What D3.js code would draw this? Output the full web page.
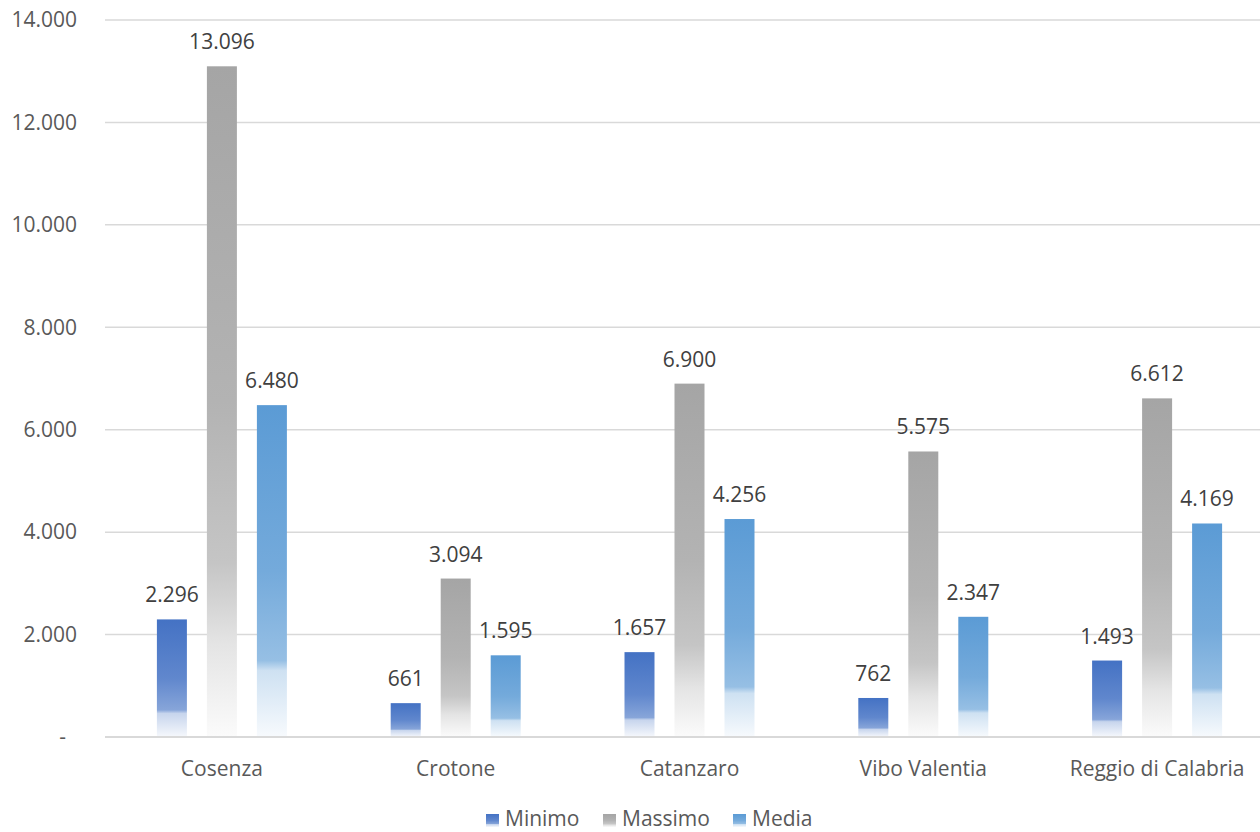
<!DOCTYPE html>
<html>
<head>
<meta charset="utf-8">
<script src="https://cdn.jsdelivr.net/npm/d3@7"></script>
<style>
  html, body { margin: 0; padding: 0; background: #fff; }
  svg { display: block; font-family: "Open Sans", "Noto Sans", sans-serif; }
</style>
</head>
<body>
<svg id="chart" width="1260" height="832"></svg>
<script>
// Province categories and the three series (min / max / average)
const categories = ["Cosenza", "Crotone", "Catanzaro", "Vibo Valentia", "Reggio di Calabria"];
const seriesNames = ["Minimo", "Massimo", "Media"];
const minimo  = [2296, 661, 1657, 762, 1493];
const massimo = [13096, 3094, 6900, 5575, 6612];
const media   = [6480, 1595, 4256, 2347, 4169];
const yTicks  = [0, 2000, 4000, 6000, 8000, 10000, 12000, 14000];
const seriesColors = ["#4472c4", "#a5a5a5", "#5b9bd5"];

const series = [minimo, massimo, media];

const svg = d3.select("#chart");
const W = 1260, H = 832;
const plot = { left: 105, right: 1274, top: 20, bottom: 737 };
const FS = 21;

const fmt = v => v === 0 ? "-" : d3.format(",")(v).replace(/,/g, ".");

const x = d3.scaleBand().domain(categories).range([plot.left, plot.right]).paddingInner(0).paddingOuter(0);
const y = d3.scaleLinear().domain([0, 14000]).range([plot.bottom, plot.top]);
const xSub = d3.scaleBand().domain(seriesNames).range([-75, 75]).paddingInner(0.4).paddingOuter(0.2);

// Vertical fade gradients, one per series (offset, amount of white mixed in)
const blueStops = [[0, 0], [0.5, 0.15], [0.77, 0.36], [0.8, 0.7], [1, 0.95]];
const grayStops = [[0, 0], [0.5, 0.15], [0.74, 0.35], [0.8, 0.52], [0.86, 0.7], [1, 0.95]];
const defs = svg.append("defs");
seriesColors.forEach((c, i) => {
  const mix = t => d3.interpolateRgb(c, "#ffffff")(t);
  const g = defs.append("linearGradient")
    .attr("id", "grad" + i).attr("x1", 0).attr("y1", 0).attr("x2", 0).attr("y2", 1);
  (i === 1 ? grayStops : blueStops).forEach(([o, t]) => {
    g.append("stop").attr("offset", o).attr("stop-color", mix(t));
  });
});

// Gridlines
svg.append("g").selectAll("line").data(yTicks.filter(d => d > 0)).join("line")
  .attr("x1", plot.left).attr("x2", W)
  .attr("y1", d => y(d)).attr("y2", d => y(d))
  .attr("stroke", "#d9d9d9").attr("stroke-width", 1.5);

// Y axis labels
svg.append("g").selectAll("text").data(yTicks).join("text")
  .attr("x", d => d === 0 ? 66 : 77)
  .attr("y", d => y(d))
  .attr("dy", "0.35em")
  .attr("text-anchor", "end")
  .attr("font-size", FS)
  .attr("fill", "#595959")
  .text(fmt);

// Bars
const groups = svg.append("g").selectAll("g").data(categories).join("g")
  .attr("transform", d => `translate(${x(d) + x.bandwidth() / 2},0)`);

seriesNames.forEach((name, si) => {
  groups.append("rect")
    .attr("x", xSub(name))
    .attr("width", xSub.bandwidth())
    .attr("y", (d, i) => y(series[si][i]))
    .attr("height", (d, i) => y(0) - y(series[si][i]))
    .attr("fill", `url(#grad${si})`);

  groups.append("text")
    .attr("x", xSub(name) + xSub.bandwidth() / 2)
    .attr("y", (d, i) => y(series[si][i]) - 17)
    .attr("text-anchor", "middle")
    .attr("font-size", FS)
    .attr("fill", "#404040")
    .text((d, i) => fmt(series[si][i]));
});

// Baseline
svg.append("line")
  .attr("x1", plot.left).attr("x2", W)
  .attr("y1", y(0)).attr("y2", y(0))
  .attr("stroke", "#d9d9d9").attr("stroke-width", 2);

// Category labels
svg.append("g").selectAll("text").data(categories).join("text")
  .attr("x", d => x(d) + x.bandwidth() / 2)
  .attr("y", 776)
  .attr("text-anchor", "middle")
  .attr("font-size", FS)
  .attr("fill", "#595959")
  .text(d => d);

// Legend
const legendX = [486, 603, 733];
const legend = svg.append("g").selectAll("g").data(seriesNames).join("g")
  .attr("transform", (d, i) => `translate(${legendX[i]},814)`);
legend.append("rect")
  .attr("width", 13).attr("height", 13)
  .attr("fill", (d, i) => `url(#grad${i})`);
legend.append("text")
  .attr("x", 19).attr("y", 12)
  .attr("font-size", FS)
  .attr("fill", "#595959")
  .text(d => d);
</script>
</body>
</html>
